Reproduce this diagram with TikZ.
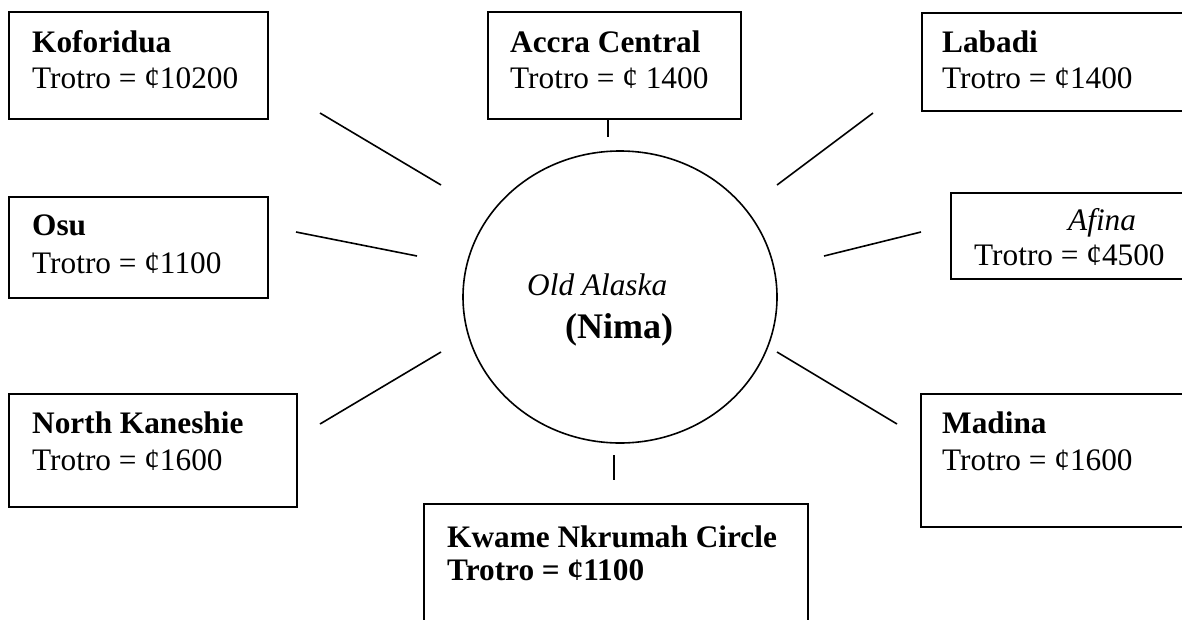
\documentclass[tikz,border=0pt]{standalone}
\usepackage{fontspec}
\setmainfont{Liberation Serif}
\begin{document}
\begin{tikzpicture}[x=1pt,y=-1pt,
  stopbox/.style={draw,line width=1.6pt,inner sep=0pt,anchor=north west},
  faretext/.style={inner sep=0pt,anchor=base west,font=\fontsize{31.3}{36}\selectfont},
  placetext/.style={faretext,font=\fontsize{31.3}{36}\selectfont\bfseries},
  route/.style={line width=1.6pt}]
\useasboundingbox (0,0) rectangle (1182,619);
\clip (0,0) rectangle (1182,619);

% destination boxes
\node[stopbox,minimum width=259pt,minimum height=107pt] (kofbox) at (8,11) {};
\node[stopbox,minimum width=253pt,minimum height=107pt] (accbox) at (487,11) {};
\node[stopbox,minimum width=280pt,minimum height=98pt] (labbox) at (921,12) {};
\node[stopbox,minimum width=259pt,minimum height=101pt] (osubox) at (8,196) {};
\node[stopbox,minimum width=250pt,minimum height=86pt] (afibox) at (950,192) {};
\node[stopbox,minimum width=288pt,minimum height=113pt] (nkabox) at (8,393) {};
\node[stopbox,minimum width=280pt,minimum height=133pt] (madbox) at (920,393) {};
\node[stopbox,minimum width=384pt,minimum height=140pt] (kncbox) at (423,503) {};

% box texts
\node[placetext] (kofname) at (32,52) {Koforidua};
\node[faretext] (koffare) at (32,88) {Trotro = ¢10200};
\node[placetext] (accname) at (510,52) {Accra Central};
\node[faretext] (accfare) at (510,88) {Trotro = ¢ 1400};
\node[placetext] (labname) at (942,52) {Labadi};
\node[faretext] (labfare) at (942,88) {Trotro = ¢1400};
\node[placetext] (osuname) at (32,235) {Osu};
\node[faretext] (osufare) at (32,273) {Trotro = ¢1100};
\node[faretext,font=\fontsize{31.3}{36}\selectfont\itshape] (afiname) at (1068,230) {Afina};
\node[faretext] (afifare) at (974,265) {Trotro = ¢4500};
\node[placetext] (nkaname) at (32,433) {North Kaneshie};
\node[faretext] (nkafare) at (32,470) {Trotro = ¢1600};
\node[placetext] (madname) at (942,433) {Madina};
\node[faretext] (madfare) at (942,470) {Trotro = ¢1600};
\node[placetext] (kncname) at (447,547) {Kwame Nkrumah Circle};
\node[placetext] (kncfare) at (447,580) {Trotro = ¢1100};

% central station
\draw[line width=1.6pt] (620,297) ellipse [x radius=157, y radius=146];
\node[faretext,font=\fontsize{31.3}{36}\selectfont\itshape] (old) at (527,295) {Old Alaska};
\node[faretext,font=\fontsize{36}{40}\selectfont\bfseries] (nima) at (565,338) {(Nima)};

% spokes
\coordinate (k1) at (320,113); \coordinate (k2) at (441,185);
\coordinate (o1) at (296,232); \coordinate (o2) at (417,256);
\coordinate (n1) at (320,424); \coordinate (n2) at (441,352);
\coordinate (l1) at (873,113); \coordinate (l2) at (777,185);
\coordinate (a1) at (921,232); \coordinate (a2) at (824,256);
\coordinate (m1) at (777,352); \coordinate (m2) at (897,424);
\coordinate (c1) at (608,118); \coordinate (c2) at (608,137);
\coordinate (q1) at (614,455); \coordinate (q2) at (614,480);
\draw[route] (k1) -- (k2);
\draw[route] (o1) -- (o2);
\draw[route] (n1) -- (n2);
\draw[route] (l1) -- (l2);
\draw[route] (a1) -- (a2);
\draw[route] (m1) -- (m2);
\draw[route] (c1) -- (c2);
\draw[route] (q1) -- (q2);
\end{tikzpicture}
\end{document}
